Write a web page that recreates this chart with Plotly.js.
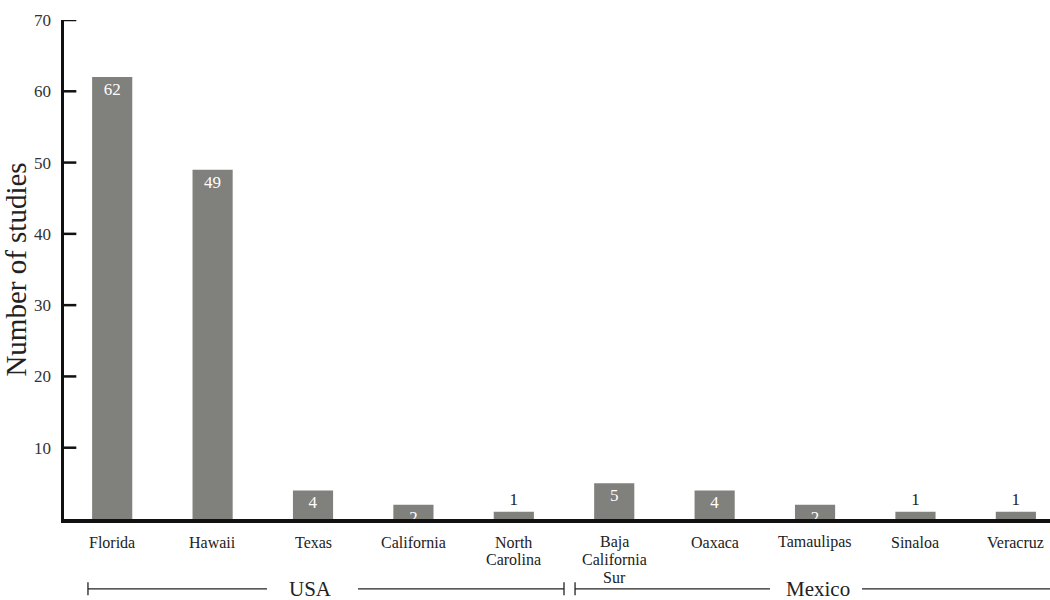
<!DOCTYPE html>
<html>
<head>
<meta charset="utf-8">
<script src="https://cdn.plot.ly/plotly-3.0.1.min.js"></script>
<style>html,body{margin:0;padding:0;background:#fff;}#chart{width:1050px;height:600px;}</style>
</head>
<body>
<div id="chart"></div>
<script>
const categories = ["Florida", "Hawaii", "Texas", "California", "North<br>Carolina",
  "Baja<br>California<br>Sur", "Oaxaca", "Tamaulipas", "Sinaloa", "Veracruz"];
const studies = [62, 49, 4, 2, 1, 5, 4, 2, 1, 1];
const yTicks = [10, 20, 30, 40, 50, 60, 70];
const groups = ["USA", "Mexico"];

const serif = "Liberation Serif";
const xIdx = categories.map((c, i) => i);

const trace = {
  type: "bar",
  x: xIdx,
  y: studies,
  width: 0.4,
  marker: {color: "#80807c"},
  text: studies.map(String),
  textposition: studies.map(v => v > 1 ? "inside" : "outside"),
  insidetextanchor: "end",
  textangle: 0,
  constraintext: "none",
  cliponaxis: false,
  textfont: {family: serif, size: 17, color: studies.map(v => v > 1 ? "#ffffff" : "#222222")},
  hoverinfo: "skip"
};

const lineStyle = {color: "#222", width: 1.3};
const yb = -0.14;
const cap = 0.013;
const shapes = [
  // USA bracket
  {type: "line", xref: "paper", yref: "paper", x0: 0.0243, x1: 0.2059, y0: yb, y1: yb, line: lineStyle},
  {type: "line", xref: "paper", yref: "paper", x0: 0.2982, x1: 0.5071, y0: yb, y1: yb, line: lineStyle},
  {type: "line", xref: "paper", yref: "paper", x0: 0.0243, x1: 0.0243, y0: yb - cap, y1: yb + cap, line: lineStyle},
  {type: "line", xref: "paper", yref: "paper", x0: 0.5071, x1: 0.5071, y0: yb - cap, y1: yb + cap, line: lineStyle},
  // Mexico bracket
  {type: "line", xref: "paper", yref: "paper", x0: 0.5183, x1: 0.7160, y0: yb, y1: yb, line: lineStyle},
  {type: "line", xref: "paper", yref: "paper", x0: 0.8094, x1: 1.0, y0: yb, y1: yb, line: lineStyle},
  {type: "line", xref: "paper", yref: "paper", x0: 0.5183, x1: 0.5183, y0: yb - cap, y1: yb + cap, line: lineStyle}
];

// y-axis tick marks pointing into the plot, one per tick value
yTicks.forEach(v => {
  shapes.push({type: "line", xref: "paper", yref: "y", x0: 0, x1: 0.0125, y0: v, y1: v,
    line: {color: "#111", width: 2.5}, layer: "above"});
});

const annotations = [
  {text: groups[0], xref: "paper", yref: "paper", x: 0.2505, y: yb, showarrow: false,
   xanchor: "center", yanchor: "middle", font: {family: serif, size: 21, color: "#222"}},
  {text: groups[1], xref: "paper", yref: "paper", x: 0.7647, y: yb, showarrow: false,
   xanchor: "center", yanchor: "middle", font: {family: serif, size: 21, color: "#222"}}
];

// category labels, one annotation per text line for tight line spacing
categories.forEach((label, i) => {
  label.split("<br>").forEach((line, k) => {
    annotations.push({
      text: line, xref: "x", yref: "paper", x: i, y: 0,
      yanchor: "middle", xanchor: "center", yshift: -(23 + 17.5 * k), borderpad: 0,
      showarrow: false, font: {family: serif, size: 16, color: "#222"}
    });
  });
});

const layout = {
  width: 1050, height: 600,
  margin: {l: 64, r: 0, t: 20, b: 81},
  paper_bgcolor: "#ffffff",
  plot_bgcolor: "#ffffff",
  showlegend: false,
  font: {family: serif, color: "#222"},
  xaxis: {
    range: [-0.48, 9.34],
    tickvals: xIdx,
    showticklabels: false,
    showgrid: false, zeroline: false,
    showline: true, linecolor: "#111", linewidth: 3.5,
    ticks: "",
    fixedrange: true
  },
  yaxis: {
    range: [0, 70],
    tickvals: yTicks,
    showgrid: false, zeroline: false,
    showline: true, linecolor: "#111", linewidth: 3.5,
    ticks: "",
    ticklabelstandoff: 6,
    tickfont: {family: serif, size: 17, color: "#333"},
    title: {text: "Number of studies", font: {family: serif, size: 29, color: "#222"}, standoff: 4},
    fixedrange: true
  },
  shapes: shapes,
  annotations: annotations
};

Plotly.newPlot("chart", [trace], layout, {displayModeBar: false, staticPlot: true});
</script>
</body>
</html>
